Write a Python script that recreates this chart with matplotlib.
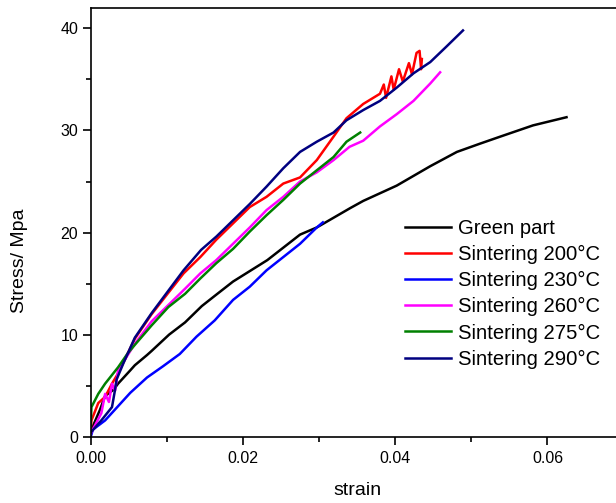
import matplotlib
matplotlib.use("Agg")
import matplotlib.pyplot as plt
from matplotlib.ticker import MultipleLocator

plt.rcParams['font.family'] = ['Liberation Sans', 'DejaVu Sans']

# curves (strain, stress in MPa)
green_x = [0.0, 0.0001, 0.0012, 0.0019, 0.003, 0.0036, 0.0052, 0.0058, 0.0074, 0.0080,
           0.0103, 0.0124, 0.0146, 0.0163, 0.0187, 0.0232, 0.0275, 0.0297, 0.0341,
           0.0358, 0.0402, 0.0446, 0.0481, 0.0511, 0.0538, 0.0581, 0.0625]
green_y = [0.0, 0.7, 2.6, 4.0, 4.6, 5.2, 6.5, 7.0, 8.0, 8.4,
           10.0, 11.2, 12.8, 13.8, 15.2, 17.3, 19.8, 20.5, 22.4,
           23.1, 24.6, 26.5, 27.9, 28.7, 29.4, 30.5, 31.3]

s200_x = [0.0, 0.0001, 0.0010, 0.0019, 0.0028, 0.0036, 0.0049, 0.0058, 0.0080, 0.0102,
          0.0122, 0.0144, 0.0165, 0.0187, 0.0209, 0.0231, 0.0253, 0.0275, 0.0297, 0.0319,
          0.0336, 0.0358, 0.0380, 0.0385, 0.0388, 0.0395, 0.0398, 0.0405, 0.0410, 0.0418,
          0.0422, 0.0428, 0.0432, 0.0434, 0.0435]
s200_y = [0.6, 1.6, 3.3, 3.9, 5.2, 6.2, 8.2, 9.6, 12.0, 14.1,
          16.0, 17.6, 19.3, 20.9, 22.5, 23.5, 24.8, 25.4, 27.1, 29.4,
          31.2, 32.6, 33.6, 34.5, 33.2, 35.3, 34.0, 36.0, 34.8, 36.6,
          35.5, 37.6, 37.8, 36.0, 37.0]

s230_x = [0.0, 0.0003, 0.0019, 0.003, 0.0052, 0.0074, 0.0095, 0.0117, 0.0139, 0.0163,
          0.0187, 0.0209, 0.0231, 0.0253, 0.0275, 0.0297, 0.0305]
s230_y = [0.0, 0.7, 1.6, 2.5, 4.3, 5.8, 6.9, 8.1, 9.8, 11.4,
          13.4, 14.7, 16.3, 17.6, 18.9, 20.5, 21.0]

s260_x = [0.0, 0.0014, 0.0019, 0.0024, 0.0028, 0.0032, 0.0036, 0.0058, 0.0080, 0.0102,
          0.0124, 0.0144, 0.0165, 0.0187, 0.0209, 0.0231, 0.0253, 0.0275, 0.0297, 0.0319,
          0.0340, 0.0358, 0.0380, 0.0402, 0.0424, 0.0446, 0.0459]
s260_y = [0.3, 2.3, 4.2, 3.4, 5.2, 4.5, 6.5, 9.1, 11.3, 12.9,
          14.5, 16.0, 17.3, 18.9, 20.5, 22.2, 23.5, 25.0, 25.9, 27.1,
          28.4, 29.0, 30.4, 31.6, 32.9, 34.6, 35.7]

s275_x = [0.0, 0.0001, 0.0010, 0.0019, 0.0036, 0.0049, 0.0058, 0.0080, 0.0102, 0.0124,
          0.0144, 0.0165, 0.0187, 0.0209, 0.0231, 0.0253, 0.0275, 0.0297, 0.0319, 0.0336,
          0.0354]
s275_y = [1.0, 2.9, 4.2, 5.2, 6.8, 8.2, 9.0, 10.9, 12.7, 14.0,
          15.5, 17.0, 18.4, 20.1, 21.7, 23.2, 24.8, 26.1, 27.4, 28.9,
          29.8]

s290_x = [0.0, 0.0014, 0.0028, 0.0032, 0.0034, 0.0043, 0.0058, 0.0080, 0.0102, 0.0122,
          0.0145, 0.0165, 0.0187, 0.0209, 0.0231, 0.0253, 0.0275, 0.0297, 0.0319, 0.0336,
          0.0358, 0.0380, 0.0402, 0.0424, 0.0446, 0.0467, 0.0489]
s290_y = [0.4, 1.6, 2.9, 4.6, 5.6, 7.2, 9.7, 12.1, 14.3, 16.3,
          18.3, 19.6, 21.2, 22.8, 24.5, 26.3, 27.9, 28.9, 29.8, 31.0,
          32.0, 32.9, 34.2, 35.6, 36.7, 38.2, 39.8]

labels = ["Green part", "Sintering 200\u00b0C", "Sintering 230\u00b0C",
          "Sintering 260\u00b0C", "Sintering 275\u00b0C", "Sintering 290\u00b0C"]
colors = ["black", "#ff0000", "#0000ff", "#ff00ff", "#008000", "#000080"]

fig = plt.figure(figsize=(6.16, 5.03), dpi=100)
ax = fig.add_axes([0.1472, 0.1318, 0.8528, 0.8523])

series = [(green_x, green_y), (s200_x, s200_y), (s230_x, s230_y),
          (s260_x, s260_y), (s275_x, s275_y), (s290_x, s290_y)]
for (xs, ys), lab, c in zip(series, labels, colors):
    ax.plot(xs, ys, color=c, lw=1.8, label=lab)

ax.set_xlim(0, 0.069)
ax.set_ylim(0, 42)
ax.xaxis.set_major_locator(MultipleLocator(0.02))
ax.xaxis.set_minor_locator(MultipleLocator(0.01))
ax.yaxis.set_major_locator(MultipleLocator(10))
ax.yaxis.set_minor_locator(MultipleLocator(5))
ax.xaxis.set_major_formatter(plt.FormatStrFormatter('%.2f'))

ax.spines['right'].set_visible(False)
for sp in ax.spines.values():
    sp.set_linewidth(1.2)
ax.tick_params(which='major', direction='out', length=5.5, width=1.2, labelsize=11.5)
ax.tick_params(axis='x', which='major', pad=5)
ax.tick_params(which='minor', direction='out', length=3.5, width=1.2)

ax.set_xlabel("strain", fontsize=14)
ax.set_ylabel("Stress/ Mpa", fontsize=14)
ax.xaxis.set_label_coords(0.507, -0.105)
ax.yaxis.set_label_coords(-0.12, 0.41)

ax.legend(loc='upper left', bbox_to_anchor=(0.598, 0.508), frameon=False,
          fontsize=14.6, borderpad=0, borderaxespad=0, labelspacing=0.35,
          handlelength=2.3, handletextpad=0.3)

fig.savefig("out.png", dpi=100)
